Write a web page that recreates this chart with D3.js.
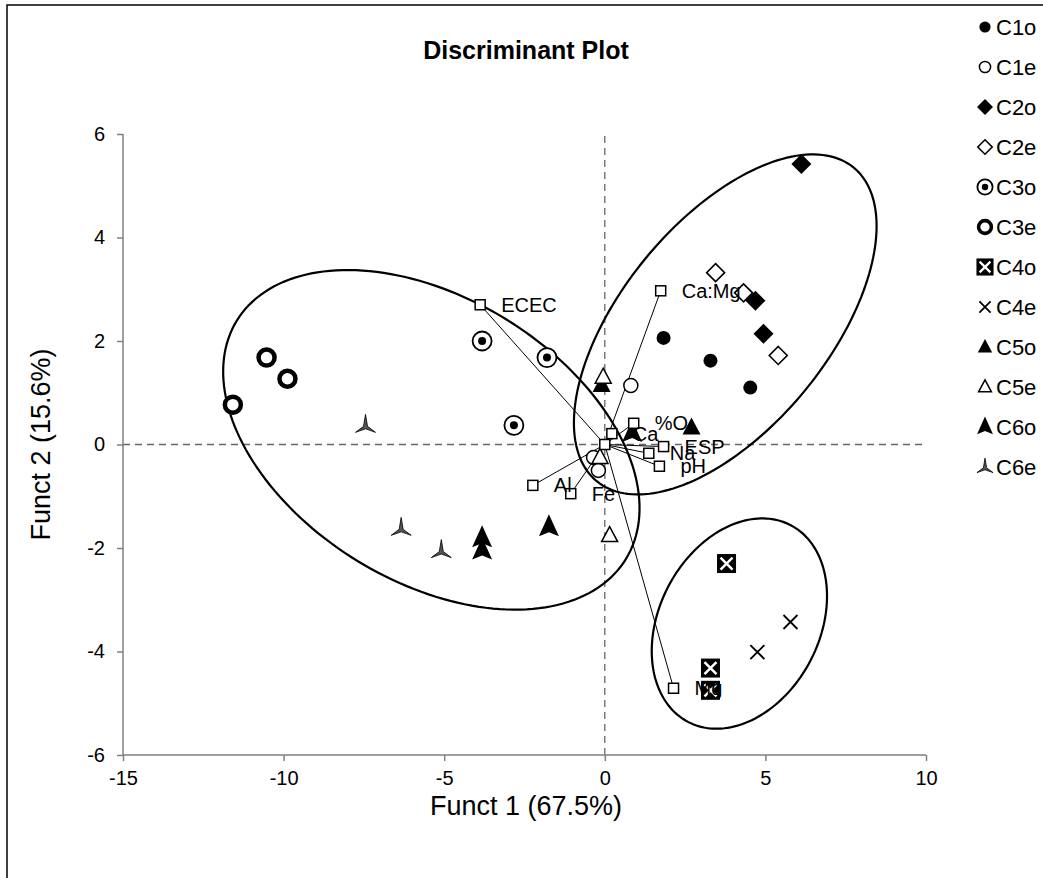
<!DOCTYPE html>
<html><head><meta charset="utf-8">
<script src="https://cdn.jsdelivr.net/npm/d3@7/dist/d3.min.js"></script>
<style>body{margin:0;background:#fff}svg{display:block}text{font-family:Arial,"Liberation Sans",sans-serif}</style>
</head><body><svg id="c" width="1043" height="878"></svg>
<script>
const xTicks=[-15,-10,-5,0,5,10];
const yTicks=[-6,-4,-2,0,2,4,6];
const C1o=[[1.83,2.06],[3.29,1.62],[4.53,1.10]];
const C1e=[[0.81,1.14],[-0.35,-0.25],[-0.2,-0.5]];
const C2o=[[6.12,5.42],[4.69,2.78],[4.94,2.14]];
const C2e=[[3.45,3.32],[4.32,2.93],[5.40,1.72]];
const C3o=[[-3.82,2.0],[-1.8,1.68],[-2.83,0.37]];
const C3e=[[-10.53,1.68],[-9.88,1.27],[-11.58,0.77]];
const C4o=[[3.79,-2.30],[3.29,-4.32],[3.29,-4.75]];
const C4e=[[5.78,-3.43],[4.75,-4.01]];
const C5o=[[2.7,0.33],[-0.1,1.15]];
const C5e=[[-0.05,1.3],[0.15,-1.76],[-0.15,-0.25]];
const C6o=[[0.85,0.22],[-3.82,-1.81],[-3.82,-2.05],[-1.74,-1.6]];
const C6e=[[-7.45,0.37],[-6.34,-1.62],[-5.09,-2.05]];
const vecNames=["ECEC","Ca:Mg","%O","Ca","ESP","Na","pH","Al","Fe","Mg"];
const vecX=[-3.88,1.74,0.9,0.22,1.83,1.37,1.7,-2.24,-1.06,2.14];
const vecY=[2.70,2.97,0.41,0.21,-0.04,-0.17,-0.42,-0.79,-0.95,-4.71];
const seriesNames=["C1o","C1e","C2o","C2e","C3o","C3e","C4o","C4e","C5o","C5e","C6o","C6e"];
const seriesData=[C1o,C1e,C2o,C2e,C3o,C3e,C4o,C4e,C5o,C5e,C6o,C6e];
// group ellipses: centre and two conjugate semi-diameters, in data units
const ellCentre=[[-5.40,0.09],[3.75,2.32],[4.19,-3.46]];
const ellU=[[2.30,2.34],[2.49,-1.27],[2.21,-0.72]];
const ellV=[[6.06,-2.30],[-4.00,-3.03],[-1.60,-1.90]];

const svg=d3.select("#c");
const x=d3.scaleLinear().domain([-15,10]).range([123,926]);
const y=d3.scaleLinear().domain([-6,6]).range([755,134]);

svg.append("rect").attr("x",7).attr("y",5).attr("width",1100).attr("height",1000).attr("fill","#fff").attr("stroke","#000").attr("stroke-width",1.5);

svg.append("text").attr("x",526).attr("y",59).attr("text-anchor","middle").attr("font-weight","bold").attr("font-size",25).text("Discriminant Plot");

// dashed zero lines
svg.append("line").attr("x1",x(-15)).attr("x2",x(10)).attr("y1",y(0)).attr("y2",y(0)).attr("stroke","#666").attr("stroke-dasharray","7,5").attr("stroke-width",1.3);
svg.append("line").attr("x1",x(0)).attr("x2",x(0)).attr("y1",y(-6)).attr("y2",y(6)).attr("stroke","#666").attr("stroke-dasharray","7,5").attr("stroke-width",1.3);

const fmt=d=>String(d);
const gx=svg.append("g").attr("transform",`translate(0,${y(-6)})`).call(d3.axisBottom(x).tickValues(xTicks).tickSize(6).tickPadding(10).tickFormat(fmt));
const gy=svg.append("g").attr("transform",`translate(${x(-15)},0)`).call(d3.axisLeft(y).tickValues(yTicks).tickSize(6).tickPadding(12).tickFormat(fmt));
[gx,gy].forEach(g=>{g.selectAll("path,line").attr("stroke","#808080").attr("stroke-width",1.5);g.selectAll("text").attr("font-size",20).attr("fill","#000").attr("font-family","Arial, Liberation Sans, sans-serif");});
gx.select(".domain").attr("d",`M${x(-15)},0H${x(10)}`);
gy.select(".domain").attr("d",`M0,${y(-6)}V${y(6)}`);

svg.append("text").attr("x",526).attr("y",815).attr("text-anchor","middle").attr("font-size",27).text("Funct 1 (67.5%)");
svg.append("text").attr("transform",`translate(50,${y(0)}) rotate(-90)`).attr("text-anchor","middle").attr("font-size",27).text("Funct 2 (15.6%)");

function diamond(h){return `M0,${-h}L${h},0L0,${h}L${-h},0Z`;}
function marker(g,name,k){
  switch(name){
    case "C1o": g.append("circle").attr("r",7*k).attr("fill","#000");break;
    case "C1e": g.append("circle").attr("r",7*k).attr("fill","#fff").attr("stroke","#000").attr("stroke-width",1.5);break;
    case "C2o": g.append("path").attr("d",diamond(10*k)).attr("fill","#000");break;
    case "C2e": g.append("path").attr("d",diamond(9*k)).attr("fill","#fff").attr("stroke","#000").attr("stroke-width",1.6);break;
    case "C3o": g.append("circle").attr("r",9.5*k).attr("fill","#fff").attr("stroke","#000").attr("stroke-width",1.8);g.append("circle").attr("r",4*k).attr("fill","#000");break;
    case "C3e": g.append("circle").attr("r",8*k).attr("fill","#fff").attr("stroke","#000").attr("stroke-width",4.5*k);break;
    case "C4o": g.append("rect").attr("x",-9.5*k).attr("y",-9.5*k).attr("width",19*k).attr("height",19*k).attr("fill","#000");
      g.append("path").attr("d",`M${-6*k},${-6*k}L${6*k},${6*k}M${6*k},${-6*k}L${-6*k},${6*k}`).attr("stroke","#fff").attr("stroke-width",2.5*k);break;
    case "C4e": g.append("path").attr("d",`M${-7*k},${-7*k}L${7*k},${7*k}M${7*k},${-7*k}L${-7*k},${7*k}`).attr("stroke","#000").attr("stroke-width",1.8);break;
    case "C5o": g.append("path").attr("d",`M0,${-10*k}L${9*k},${7*k}L${-9*k},${7*k}Z`).attr("fill","#000");break;
    case "C5e": g.append("path").attr("d",`M0,${-9*k}L${8*k},${6*k}L${-8*k},${6*k}Z`).attr("fill","#fff").attr("stroke","#000").attr("stroke-width",1.5);break;
    case "C6o": g.append("path").attr("d",`M0,${-13*k}L${10*k},${9*k}L0,${5*k}L${-10*k},${9*k}Z`).attr("fill","#000");break;
    case "C6e": g.append("path").attr("d",`M0,${-11*k}L${2*k},${1*k}L${10*k},${7*k}L0,${3.5*k}L${-10*k},${7*k}L${-2*k},${1*k}Z`).attr("fill","#555").attr("stroke","#000").attr("stroke-width",0.8);break;
  }
}

// ellipses
ellCentre.forEach((c,i)=>{
  const u=ellU[i],v=ellV[i];
  const pts=d3.range(0,360,2).map(t=>{const r=t*Math.PI/180;return [x(c[0]+u[0]*Math.cos(r)+v[0]*Math.sin(r)),y(c[1]+u[1]*Math.cos(r)+v[1]*Math.sin(r))];});
  svg.append("path").attr("d",d3.line()(pts)+"Z").attr("fill","none").attr("stroke","#000").attr("stroke-width",2.2);
});

// vectors
vecNames.forEach((n,i)=>{svg.append("line").attr("x1",x(0)).attr("y1",y(0)).attr("x2",x(vecX[i])).attr("y2",y(vecY[i])).attr("stroke","#000").attr("stroke-width",1);});

// points
seriesNames.forEach((n,i)=>{
  seriesData[i].forEach(p=>{marker(svg.append("g").attr("transform",`translate(${x(p[0])},${y(p[1])})`),n,1);});
});

// vector end squares + labels
[[0,0]].concat(vecX.map((v,i)=>[v,vecY[i]])).forEach(p=>{
  svg.append("rect").attr("x",x(p[0])-5).attr("y",y(p[1])-5).attr("width",10).attr("height",10).attr("fill","#fff").attr("stroke","#000").attr("stroke-width",1.5);
});
vecNames.forEach((n,i)=>{
  svg.append("text").attr("x",x(vecX[i])+21).attr("y",y(vecY[i])+7).attr("font-size",20).text(n);
});

// legend
seriesNames.forEach((n,i)=>{
  const yy=27+i*40;
  marker(svg.append("g").attr("transform",`translate(985,${yy})`),n,n==="C4o"?0.9:0.8);
  svg.append("text").attr("x",996).attr("y",yy+8).attr("font-size",22).text(n);
});
</script></body></html>
